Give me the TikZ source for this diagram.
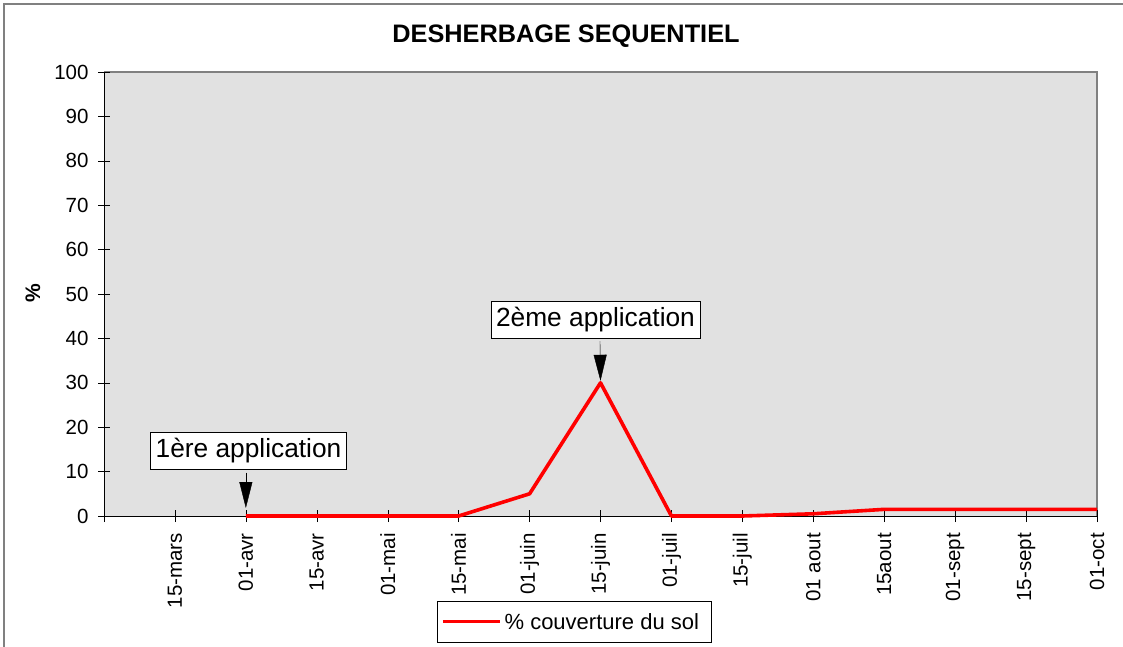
\documentclass[tikz,border=0pt]{standalone}
\usepackage{fontspec}
\setmainfont{Liberation Sans}
\usetikzlibrary{arrows.meta}
\definecolor{plotgray}{RGB}{225,225,225}
\definecolor{framegray}{RGB}{128,128,128}
\definecolor{curvered}{RGB}{255,0,0}
\tikzset{
    appbox/.style={draw=black, fill=white, inner xsep=5pt, minimum height=37pt, font=\fontsize{26.3}{29}\selectfont},
    ticklab/.style={font=\fontsize{20.5}{24}\selectfont},
    pointer/.style={-{Triangle[length=26pt,width=13pt]}, thin}
}
\begin{document}
\begin{tikzpicture}[x=1pt, y=-1pt]
        \useasboundingbox (0,0) rectangle (1123,647);
        % outer frame
        \draw[framegray, line width=1.5pt] (4,660) -- (4,4) -- (1140,4);
        % plot area
        \fill[plotgray] (104,72) rectangle (1097,516);
        \draw[framegray, line width=1.5pt] (104,72) -- (1097,72) -- (1097,516);
        % Add title
        \node (title) at (566,36) {\fontsize{25.3}{29}\selectfont\bfseries DESHERBAGE SEQUENTIEL};
        \node[rotate=90, font=\fontsize{21}{24}\selectfont\bfseries] (ylab) at (33,293) {\%};
        \begin{scope}[shift={(104,516)}, x=70.93pt, y=4.44pt]
            % y axis
            \draw[thick] (0,0) -- (0,100);
            \foreach \v in {0,10,...,100}{
                \draw (-6pt,\v) -- (6pt,\v);
                \node[ticklab, anchor=east] at (-12pt,\v) {\v};
            }
            % x axis
            \draw[thick] (0,0) -- (14,0);
            \draw (0,-6pt) -- (0,6pt);
            \foreach \lab [count=\i] in {15-mars,01-avr,15-avr,01-mai,15-mai,01-juin,15-juin,01-juil,15-juil,01 aout,15aout,01-sept,15-sept,01-oct}{
                \draw (\i,-6pt) -- (\i,6pt);
                \node[ticklab, rotate=90, anchor=east, inner sep=1pt] at (\i,-16pt) {\lab};
            }
            % data
            \draw[curvered, line width=3.6pt, line join=round] (2,0) coordinate (avr) -- (3,0) -- (4,0) -- (5,0) -- (6,5) -- (7,30) coordinate (juin) -- (8,0) -- (9,0) -- (10,0.5) -- (11,1.5) -- (12,1.5) -- (13,1.5) -- (14,1.5);
        \end{scope}
        % Add labels
        \node[appbox] (app1) at (248.5,451) {1ère application};
        \node[appbox] (app2) at (595.5,320) {2ème application};
        \draw[pointer, shorten >=8pt] (app1.south -| avr) ++(0,3) coordinate (a1) -- (avr);
        \draw[pointer, shorten >=2pt] (600,341) -- (juin);
        % legend
        \node[draw=black, fill=white, minimum width=274pt, minimum height=41pt] (legend) at (574,621.5) {};
        \draw[curvered, line width=3.6pt] ([xshift=6pt]legend.west) -- ++(57,0) node[right, inner sep=3pt, font=\fontsize{22}{26}\selectfont, text=black] (legtext) {\% couverture du sol};
\end{tikzpicture}
\end{document}
